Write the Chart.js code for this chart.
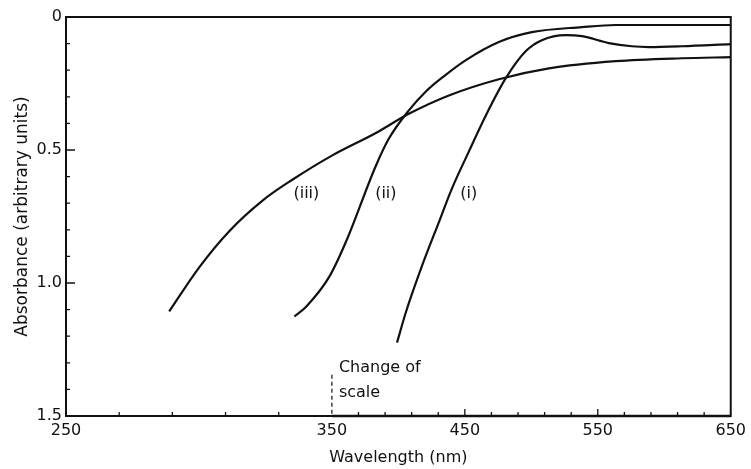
<!DOCTYPE html>
<html>
<head>
<meta charset="utf-8">
<title>Absorbance spectra</title>
<script src="https://cdn.jsdelivr.net/npm/chart.js@4/dist/chart.umd.min.js"></script>
<style>
  html, body { margin: 0; padding: 0; background: #ffffff; }
  #wrap { width: 751px; height: 469px; }
</style>
</head>
<body>
<div id="wrap"><canvas id="chart" width="751" height="469"></canvas></div>
<script>
// Spectrum (i)
const wavelengthI = [399, 405.6, 417.7, 430.5, 440.2, 453, 465.8, 480.8, 495.9, 507.9, 526, 538, 558.3, 575.6, 588.3, 613.2, 650];
const absorbanceI = [1.224, 1.111, 0.937, 0.771, 0.646, 0.506, 0.370, 0.230, 0.128, 0.087, 0.068, 0.072, 0.098, 0.110, 0.113, 0.110, 0.102];

// Spectrum (ii)
const wavelengthII = [335.9, 340.4, 349.1, 360.5, 383.1, 392.9, 407.9, 420.7, 434.2, 450.8, 475.6, 500.4, 538, 563.5, 601, 650];
const absorbanceII = [1.126, 1.088, 0.975, 0.846, 0.559, 0.457, 0.351, 0.280, 0.223, 0.162, 0.094, 0.057, 0.038, 0.030, 0.030, 0.030];

// Spectrum (iii)
const wavelengthIII = [288.8, 300.1, 311.4, 323.8, 335.1, 350, 383.1, 407.9, 438, 475.6, 513.2, 563.5, 613.2, 650];
const absorbanceIII = [1.107, 0.941, 0.805, 0.691, 0.612, 0.521, 0.436, 0.364, 0.295, 0.234, 0.193, 0.166, 0.155, 0.151];

// Curve captions and where they sit (wavelength, absorbance)
const curveLabels = ['(i)', '(ii)', '(iii)'];
const curveLabelWavelength = [453, 390.6, 340.4];
const curveLabelAbsorbance = [0.665, 0.665, 0.665];

// Axis ticks
const xTickValues = [250, 350, 450, 550, 650];
const xTickLabels = ['250', '350', '450', '550', '650'];
const xMinorTicks = [270, 290, 310, 330, 370, 390, 410, 430, 470, 490, 510, 530, 570, 590, 610, 630];
const yTickValues = [0, 0.5, 1.0, 1.5];
const yTickLabels = ['0', '0.5', '1.0', '1.5'];
const yMinorTicks = [0.1, 0.2, 0.3, 0.4, 0.6, 0.7, 0.8, 0.9, 1.1, 1.2, 1.3, 1.4];

// Below the break the wavelength axis is stretched to twice the scale
const SCALE_BREAK = 350;
const scaleNote = ['Change of', 'scale'];

function toAxis(w) {
  return w <= SCALE_BREAK ? SCALE_BREAK - (SCALE_BREAK - w) * 2 : w;
}

function series(ws, as) {
  return ws.map((w, i) => ({ x: toAxis(w), y: as[i] }));
}

const INK = '#111111';
const FONT = 'DejaVu Sans';

const lineStyle = {
  borderColor: INK,
  borderWidth: 2.2,
  pointRadius: 0,
  fill: false,
  cubicInterpolationMode: 'monotone'
};

// Frame, inward tick marks, scale-break marker and captions
const decorations = {
  id: 'decorations',
  afterDatasetsDraw(chart) {
    const ctx = chart.ctx;
    const xs = chart.scales.x;
    const ys = chart.scales.y;
    const a = chart.chartArea;
    ctx.save();
    ctx.strokeStyle = INK;
    ctx.fillStyle = INK;

    // frame
    ctx.lineWidth = 2;
    ctx.strokeRect(a.left, a.top, a.right - a.left, a.bottom - a.top);
    ctx.lineWidth = 2.6;
    ctx.beginPath();
    ctx.moveTo(xs.getPixelForValue(toAxis(SCALE_BREAK)), a.bottom);
    ctx.lineTo(a.right, a.bottom);
    ctx.stroke();

    // x ticks
    ctx.lineWidth = 1.3;
    ctx.beginPath();
    xMinorTicks.forEach(w => {
      const px = xs.getPixelForValue(toAxis(w));
      ctx.moveTo(px, a.bottom);
      ctx.lineTo(px, a.bottom - 4);
    });
    xTickValues.forEach(w => {
      if (w === 250 || w === 650 || w === SCALE_BREAK) return;
      const px = xs.getPixelForValue(toAxis(w));
      ctx.moveTo(px, a.bottom);
      ctx.lineTo(px, a.bottom - 7);
    });
    // y ticks
    yMinorTicks.forEach(v => {
      const py = ys.getPixelForValue(v);
      ctx.moveTo(a.left, py);
      ctx.lineTo(a.left + 4, py);
    });
    yTickValues.forEach(v => {
      if (v === 0 || v === 1.5) return;
      const py = ys.getPixelForValue(v);
      ctx.moveTo(a.left, py);
      ctx.lineTo(a.left + 9, py);
    });
    ctx.stroke();

    // dashed marker at the change of scale
    const bx = xs.getPixelForValue(toAxis(SCALE_BREAK));
    ctx.lineWidth = 1.2;
    ctx.setLineDash([4, 3]);
    ctx.beginPath();
    ctx.moveTo(bx, ys.getPixelForValue(1.345));
    ctx.lineTo(bx, a.bottom);
    ctx.stroke();
    ctx.setLineDash([]);

    ctx.font = '16px "' + FONT + '"';
    ctx.textAlign = 'left';
    ctx.textBaseline = 'alphabetic';
    const nx = bx + 7;
    ctx.fillText(scaleNote[0], nx, ys.getPixelForValue(1.334));
    ctx.fillText(scaleNote[1], nx, ys.getPixelForValue(1.428));

    // curve captions
    ctx.textAlign = 'center';
    ctx.textBaseline = 'middle';
    curveLabels.forEach((t, i) => {
      ctx.fillText(t,
        xs.getPixelForValue(toAxis(curveLabelWavelength[i])),
        ys.getPixelForValue(curveLabelAbsorbance[i]));
    });
    ctx.restore();
  }
};

new Chart(document.getElementById('chart'), {
  type: 'line',
  data: {
    datasets: [
      Object.assign({ label: '(i)', data: series(wavelengthI, absorbanceI) }, lineStyle),
      Object.assign({ label: '(ii)', data: series(wavelengthII, absorbanceII) }, lineStyle),
      Object.assign({ label: '(iii)', data: series(wavelengthIII, absorbanceIII) }, lineStyle)
    ]
  },
  options: {
    responsive: false,
    animation: false,
    devicePixelRatio: 1,
    layout: { padding: { top: 17, right: 19, left: 0, bottom: 0 } },
    plugins: { legend: { display: false }, tooltip: { enabled: false } },
    scales: {
      x: {
        type: 'linear',
        min: toAxis(250),
        max: toAxis(650),
        grid: { display: false, drawTicks: false },
        border: { display: false },
        afterBuildTicks: s => { s.ticks = xTickValues.map(w => ({ value: toAxis(w) })); },
        afterFit: s => { s.height = 53; },
        ticks: {
          color: INK,
          padding: 5,
          maxRotation: 0,
          autoSkip: false,
          font: { family: FONT, size: 16 },
          callback: (v, i) => xTickLabels[i]
        },
        title: {
          display: true,
          text: 'Wavelength (nm)',
          color: INK,
          font: { family: FONT, size: 16 },
          padding: { top: 0, bottom: 2 }
        }
      },
      y: {
        type: 'linear',
        min: 0,
        max: 1.5,
        reverse: true,
        grid: { display: false, drawTicks: false },
        border: { display: false },
        afterBuildTicks: s => { s.ticks = yTickValues.map(v => ({ value: v })); },
        afterFit: s => { s.width = 66; },
        ticks: {
          color: INK,
          padding: 4,
          autoSkip: false,
          font: { family: FONT, size: 16 },
          callback: (v, i) => yTickLabels[i]
        },
        title: {
          display: true,
          text: 'Absorbance (arbitrary units)',
          color: INK,
          font: { family: FONT, size: 17 },
          padding: { top: 12, bottom: 0 }
        }
      }
    }
  },
  plugins: [decorations]
});
</script>
</body>
</html>
